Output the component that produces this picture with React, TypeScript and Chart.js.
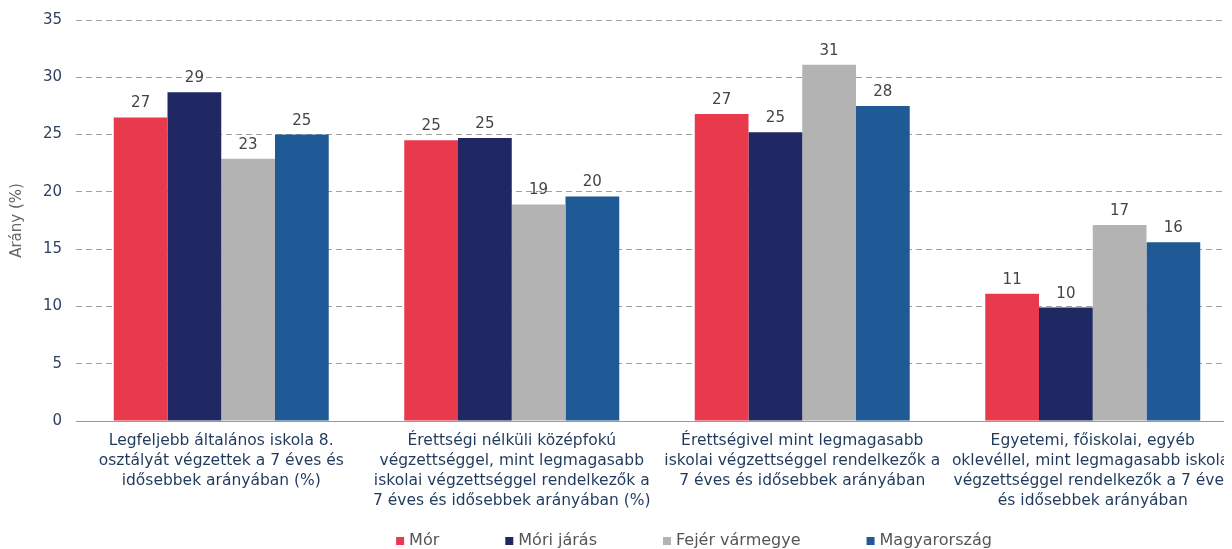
import React, { useEffect, useRef } from "react";
import { Chart, registerables } from "chart.js";

Chart.register(...registerables);

const categories: string[][] = [
  ["Legfeljebb általános iskola 8.", "osztályát végzettek a 7 éves és", "idősebbek arányában (%)"],
  ["Érettségi nélküli középfokú", "végzettséggel, mint legmagasabb", "iskolai végzettséggel rendelkezők a", "7 éves és idősebbek arányában (%)"],
  ["Érettségivel mint legmagasabb", "iskolai végzettséggel rendelkezők a", "7 éves és idősebbek arányában"],
  ["Egyetemi, főiskolai, egyéb", "oklevéllel, mint legmagasabb iskolai", "végzettséggel rendelkezők a 7 éves", "és idősebbek arányában"],
];

const seriesNames = ["Mór", "Móri járás", "Fejér vármegye", "Magyarország"];
const mor = [26.5, 24.5, 26.8, 11.1];
const moriJaras = [28.7, 24.7, 25.2, 9.9];
const fejer = [22.9, 18.9, 31.1, 17.1];
const magyarorszag = [25.0, 19.6, 27.5, 15.6];
const seriesColors = ["#e8394d", "#1f2862", "#b3b3b3", "#1f5a96"];
const yTicks = [0, 5, 10, 15, 20, 25, 30, 35];

const FONT = "DejaVu Sans";
const CANVAS_TOP = -11; // canvas offset inside the clipped frame
const CANVAS_W = 1380;
const CANVAS_H = 560;

const valueLabels = {
  id: "valueLabels",
  afterDatasetsDraw(chart: any) {
    const ctx = chart.ctx;
    ctx.save();
    ctx.font = `15px ${FONT}`;
    ctx.fillStyle = "#444444";
    ctx.textAlign = "center";
    ctx.textBaseline = "alphabetic";
    chart.data.datasets.forEach((ds: any, di: number) => {
      const meta = chart.getDatasetMeta(di);
      meta.data.forEach((el: any, i: number) => {
        const v = ds.data[i];
        ctx.fillText(String(Math.round(v)), el.x, el.y - 10);
      });
    });
    ctx.restore();
  },
};

const bottomLegend = {
  id: "bottomLegend",
  afterDraw(chart: any) {
    const ctx = chart.ctx;
    ctx.save();
    ctx.font = `16px ${FONT}`;
    ctx.textBaseline = "middle";
    ctx.textAlign = "left";
    const box = 8;
    const boxGap = 5;
    const itemGap = 66;
    const items = chart.data.datasets.map((ds: any) => ({
      text: ds.label as string,
      color: ds.backgroundColor as string,
      w: ctx.measureText(ds.label).width,
    }));
    const total =
      items.reduce((s: number, it: any) => s + box + boxGap + it.w, 0) +
      itemGap * (items.length - 1);
    const centerX = 686;
    const cy = 541 - 8 - CANVAS_TOP;
    let x = centerX - total / 2;
    items.forEach((it: any) => {
      ctx.fillStyle = it.color;
      ctx.fillRect(x, cy - box / 2, box, box);
      ctx.fillStyle = "#555555";
      ctx.fillText(it.text, x + box + boxGap, cy);
      x += box + boxGap + it.w + itemGap;
    });
    ctx.restore();
  },
};

export default function App() {
  const ref = useRef<HTMLCanvasElement | null>(null);
  useEffect(() => {
    if (!ref.current) return;
    const allSeries = [mor, moriJaras, fejer, magyarorszag];
    const chart = new Chart(ref.current, {
      type: "bar",
      data: {
        labels: categories,
        datasets: allSeries.map((d, i) => ({
          label: seriesNames[i],
          data: d,
          backgroundColor: seriesColors[i],
          borderWidth: 0,
          barPercentage: 1,
          categoryPercentage: 0.74,
        })),
      },
      plugins: [valueLabels, bottomLegend],
      options: {
        animation: false,
        responsive: true,
        maintainAspectRatio: false,
        layout: { padding: { top: 1, right: CANVAS_W - 1230, left: 0, bottom: 0 } },
        plugins: {
          legend: { display: false },
          tooltip: { enabled: false },
        },
        scales: {
          x: {
            grid: { display: false, drawTicks: false },
            border: { display: true, color: "#999999", width: 1 },
            ticks: {
              color: "#1f3a5c",
              font: { family: FONT, size: 15.5, lineHeight: 1.29 },
              padding: 10,
              maxRotation: 0,
              minRotation: 0,
              autoSkip: false,
            },
            afterFit(scale: any) {
              scale.height = CANVAS_H - (421 - 8 - CANVAS_TOP);
            },
          },
          y: {
            min: 0,
            max: 35,
            afterBuildTicks(scale: any) {
              scale.ticks = yTicks.map((v) => ({ value: v }));
            },
            grid: {
              color: "#a0a0a0",
              lineWidth: 1,
              drawTicks: false,
            },
            border: { display: false, dash: [6, 4] },
            ticks: {
              color: "#2d4262",
              font: { family: FONT, size: 15 },
              padding: 14,
            },
            title: {
              display: true,
              text: "Arány (%)",
              color: "#666666",
              font: { family: FONT, size: 15 },
              padding: { top: 0, bottom: 4 },
            },
            afterFit(scale: any) {
              scale.width = 68;
            },
          },
        },
      },
    });
    return () => chart.destroy();
  }, []);
  return (
    <div style={{ width: 1224, height: 541, overflow: "hidden", position: "relative" }}>
      <div
        style={{
          position: "absolute",
          left: 0,
          top: CANVAS_TOP,
          width: CANVAS_W,
          height: CANVAS_H,
        }}
      >
        <canvas ref={ref} />
      </div>
    </div>
  );
}
